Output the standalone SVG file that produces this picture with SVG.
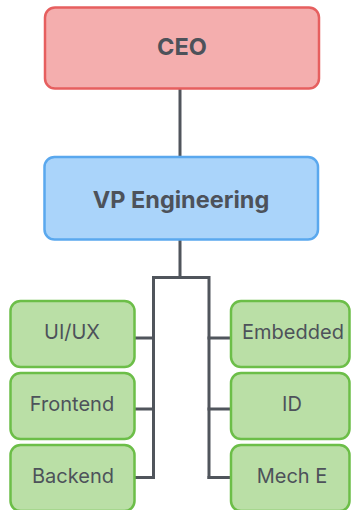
<svg xmlns="http://www.w3.org/2000/svg" width="351" height="510" viewBox="0 0 351 510">
<style>
.ceo{fill:#f4aeae;stroke:#e65f5f;stroke-width:2.5}
.vp{fill:#aad4fa;stroke:#5aa8ee;stroke-width:2.5}
.team{fill:#badfa6;stroke:#6cbe48;stroke-width:2.5}
.t{font-family:Inter,"Liberation Sans",sans-serif;fill:#4d525a;text-anchor:middle;dominant-baseline:central}
.b{font-weight:bold;font-size:23.5px}
.r{font-size:20px}
.c{fill:none;stroke:#50555c;stroke-width:3;stroke-linecap:square}
</style>
<rect width="351" height="510" fill="#fff"/>
<g id="connectors">
<path class="c" d="M180 90 V156"/>
<path class="c" d="M180 241 V277.5 M153.5 277.5 H209 M153.5 277.5 V477.5 M209 277.5 V477.5"/>
<path class="c" d="M135 338 H153.5 M135 409 H153.5 M135 477.5 H153.5"/>
<path class="c" d="M209 338 H230 M209 409 H230 M209 477.5 H230"/>
</g>
<g id="ceo"><rect class="ceo" x="45" y="7.5" width="274" height="81" rx="10"/><text class="t b" x="182" y="46">CEO</text></g>
<g id="vp"><rect class="vp" x="44.5" y="157" width="273.5" height="82.5" rx="10"/><text class="t b" x="181" y="199">VP Engineering</text></g>
<g id="uiux"><rect class="team" x="10.5" y="301" width="124" height="66" rx="10"/><text class="t r" x="72" y="332">UI/UX</text></g>
<g id="frontend"><rect class="team" x="10.5" y="373" width="124" height="66" rx="10"/><text class="t r" x="72" y="404">Frontend</text></g>
<g id="backend"><rect class="team" x="10.5" y="445" width="124" height="66" rx="10"/><text class="t r" x="73" y="476">Backend</text></g>
<g id="embedded"><rect class="team" x="231" y="301" width="118.5" height="66" rx="10"/><text class="t r" x="293" y="332">Embedded</text></g>
<g id="id"><rect class="team" x="231" y="373" width="118.5" height="66" rx="10"/><text class="t r" x="292" y="404">ID</text></g>
<g id="meche"><rect class="team" x="231" y="445" width="118.5" height="66" rx="10"/><text class="t r" x="292" y="476">Mech E</text></g>
</svg>
